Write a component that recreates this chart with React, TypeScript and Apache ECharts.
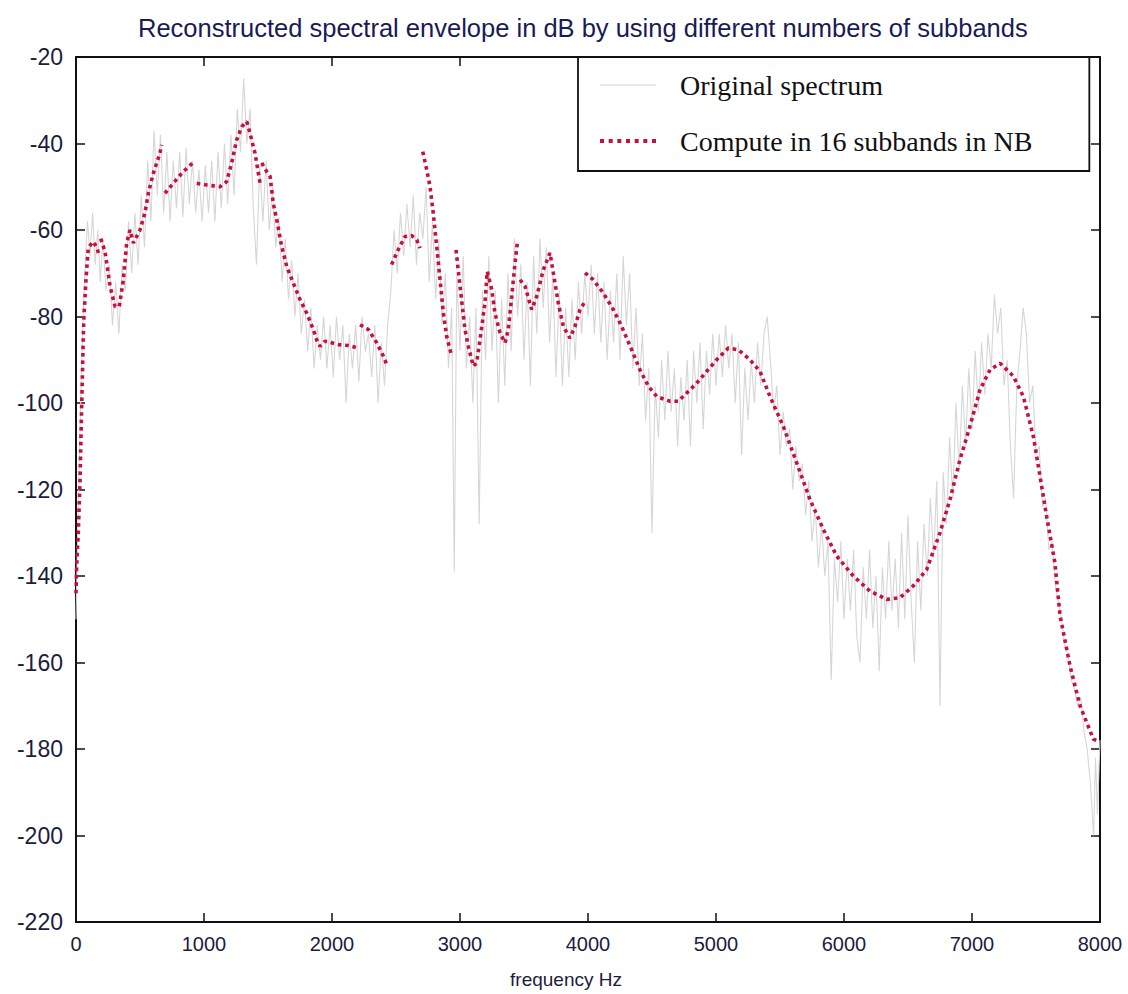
import React, { useEffect, useRef } from "react";
import * as echarts from "echarts";

const titleText = "Reconstructed spectral envelope in dB by using different numbers of subbands";
const xTicks = [0, 1000, 2000, 3000, 4000, 5000, 6000, 7000, 8000];
const yTicks = [-220, -200, -180, -160, -140, -120, -100, -80, -60, -40, -20];

// Original spectrum (Hz, dB)
const originalSpectrum: [number, number][] = [
  [0, -150], [15, -128], [30, -108], [45, -90], [60, -76], [75, -66], [90, -58], [110, -66], [130, -56], [150, -68],
  [170, -60], [190, -72], [210, -62], [235, -74], [260, -68], [285, -82], [310, -72], [335, -84], [360, -68], [385, -74],
  [410, -58], [435, -70], [460, -56], [485, -68], [510, -52], [535, -64], [560, -44], [585, -58], [610, -37], [635, -52],
  [660, -38], [685, -56], [710, -42], [735, -58], [760, -44], [785, -55], [810, -42], [835, -57], [860, -41], [885, -54],
  [910, -44], [935, -56], [960, -46], [985, -58], [1010, -45], [1035, -56], [1060, -44], [1085, -58], [1110, -42], [1135, -55],
  [1160, -40], [1185, -54], [1210, -38], [1235, -52], [1260, -32], [1285, -42], [1310, -25], [1335, -40], [1360, -32], [1385, -55],
  [1410, -68], [1435, -45], [1460, -58], [1485, -44], [1510, -60], [1535, -50], [1560, -64], [1585, -57], [1610, -72], [1635, -62],
  [1660, -76], [1685, -67], [1710, -80], [1735, -70], [1760, -84], [1785, -76], [1810, -88], [1835, -78], [1860, -92], [1885, -82],
  [1910, -90], [1935, -80], [1960, -92], [1985, -82], [2010, -94], [2035, -80], [2060, -90], [2085, -82], [2110, -100], [2135, -84],
  [2160, -92], [2185, -82], [2210, -95], [2235, -80], [2260, -88], [2285, -84], [2310, -94], [2335, -82], [2360, -100], [2385, -86],
  [2410, -96], [2435, -82], [2460, -74], [2485, -60], [2510, -70], [2535, -56], [2560, -66], [2585, -54], [2610, -64], [2635, -52],
  [2660, -68], [2685, -56], [2710, -62], [2735, -50], [2760, -72], [2785, -58], [2810, -76], [2835, -62], [2860, -82], [2885, -70],
  [2910, -92], [2935, -78], [2955, -139], [2975, -70], [3000, -88], [3025, -66], [3050, -92], [3075, -80], [3100, -100], [3125, -78],
  [3150, -128], [3175, -74], [3200, -90], [3225, -66], [3250, -88], [3275, -74], [3300, -100], [3325, -76], [3350, -96], [3375, -70],
  [3400, -88], [3425, -62], [3450, -80], [3475, -68], [3500, -90], [3525, -72], [3550, -96], [3575, -66], [3600, -84], [3625, -62],
  [3650, -78], [3675, -64], [3700, -86], [3725, -70], [3750, -94], [3775, -74], [3800, -96], [3825, -78], [3850, -94], [3875, -76],
  [3900, -90], [3925, -72], [3950, -84], [3975, -70], [4000, -80], [4025, -68], [4050, -84], [4075, -70], [4100, -86], [4125, -72],
  [4150, -90], [4175, -74], [4200, -86], [4225, -70], [4250, -90], [4275, -66], [4300, -82], [4325, -70], [4350, -92], [4375, -78],
  [4400, -96], [4425, -84], [4450, -104], [4475, -92], [4500, -130], [4525, -96], [4550, -108], [4575, -90], [4600, -104], [4625, -88],
  [4650, -102], [4675, -92], [4700, -110], [4725, -94], [4750, -104], [4775, -90], [4800, -110], [4825, -88], [4850, -100], [4875, -86],
  [4900, -106], [4925, -88], [4950, -98], [4975, -84], [5000, -96], [5025, -84], [5050, -94], [5075, -82], [5100, -92], [5125, -84],
  [5150, -100], [5175, -86], [5200, -112], [5225, -92], [5250, -104], [5275, -90], [5300, -100], [5325, -86], [5350, -96], [5375, -84],
  [5400, -80], [5425, -90], [5450, -102], [5475, -96], [5500, -112], [5525, -102], [5550, -110], [5575, -106], [5600, -120], [5625, -110],
  [5650, -118], [5675, -114], [5700, -126], [5725, -118], [5750, -132], [5775, -124], [5800, -138], [5825, -128], [5850, -140], [5875, -132],
  [5900, -164], [5925, -136], [5950, -146], [5975, -132], [6000, -150], [6025, -136], [6050, -148], [6075, -134], [6100, -154], [6125, -160],
  [6150, -138], [6175, -150], [6200, -134], [6225, -152], [6250, -140], [6275, -162], [6300, -138], [6325, -150], [6350, -132], [6375, -148],
  [6400, -136], [6425, -152], [6450, -130], [6475, -150], [6500, -126], [6525, -146], [6550, -160], [6575, -132], [6600, -148], [6625, -128],
  [6650, -140], [6675, -122], [6700, -136], [6725, -118], [6750, -170], [6775, -116], [6800, -128], [6825, -108], [6850, -122], [6875, -100],
  [6900, -116], [6925, -96], [6950, -110], [6975, -92], [7000, -106], [7025, -88], [7050, -102], [7075, -86], [7100, -98], [7125, -84],
  [7150, -92], [7175, -75], [7200, -84], [7225, -78], [7250, -96], [7275, -90], [7300, -110], [7325, -122], [7350, -96], [7375, -88],
  [7400, -78], [7425, -84], [7450, -100], [7475, -96], [7500, -112], [7525, -110], [7550, -124], [7575, -122], [7600, -134], [7625, -132],
  [7650, -142], [7675, -146], [7700, -150], [7725, -156], [7750, -158], [7775, -164], [7800, -166], [7825, -170], [7850, -168], [7875, -176],
  [7900, -180], [7925, -188], [7950, -200], [7965, -182], [7980, -195], [8000, -178],
];

// Reconstructed envelope (16 subbands in NB), one array per drawn piece
const envSeg1: [number, number][] = [
  [0, -144], [5, -137.7], [18, -130], [31, -118.4], [45, -100], [57, -84.6], [62, -80], [78, -71.5], [96, -64.1],
  [135, -62.7], [162, -64], [182, -66],
];
const envSeg2: [number, number][] = [
  [193, -62], [227, -65], [266, -73], [305, -77.7], [338, -77.7], [370, -71.5], [396, -63], [422, -60], [448, -63],
  [500, -60], [539, -56], [565, -51.5], [604, -46.9], [656, -42.2], [670, -40.3],
];
const envSeg3: [number, number][] = [[695, -51.5], [760, -49.2], [838, -46.5], [912, -44.5]];
const envSeg4: [number, number][] = [
  [943, -49.2], [1021, -49.6], [1125, -50], [1177, -48.8], [1216, -44.5], [1255, -39.2], [1295, -36.1], [1334, -34.9],
  [1359, -37.6], [1398, -42.2], [1438, -49.2],
];
const envSeg5: [number, number][] = [
  [1451, -44.5], [1490, -46.5], [1516, -47.6], [1541, -53.8], [1568, -57.6], [1607, -63.8], [1646, -68.4], [1698, -72.3],
  [1750, -76.1], [1802, -79.2], [1854, -83], [1880, -85.4], [1906, -86.9], [1945, -85.7], [2050, -86.5], [2130, -86.7], [2205, -87.3],
];
const envSeg6: [number, number][] = [[2219, -81.9], [2284, -83], [2350, -86.1], [2402, -89.2], [2427, -91.1]];
const envSeg7: [number, number][] = [[2466, -68], [2505, -65.3], [2570, -61.5], [2623, -61.3], [2662, -62.3], [2688, -64.2]];
const envSeg8: [number, number][] = [
  [2709, -41.9], [2740, -46.1], [2766, -50], [2791, -56.1], [2818, -63.8], [2844, -71.5], [2870, -79.2], [2896, -84.6], [2935, -89.2],
];
const envSeg9: [number, number][] = [
  [2969, -64.6], [3000, -73], [3039, -83], [3065, -86.9], [3104, -91.5], [3130, -90.7], [3156, -85.4], [3195, -76.9],
  [3213, -69.6], [3248, -73.8], [3273, -79.2], [3313, -83.8], [3352, -86.1], [3377, -83], [3404, -75.4], [3430, -67.6], [3448, -63],
];
const envSeg10: [number, number][] = [
  [3469, -71.5], [3508, -73], [3560, -78.4], [3599, -75.4], [3651, -69.2], [3703, -65.3], [3729, -69.9], [3768, -76.9],
  [3807, -82.3], [3859, -85], [3898, -82.3], [3938, -78.4], [3969, -76.9],
];
const envSeg11: [number, number][] = [
  [3977, -69.9], [4041, -71.5], [4120, -74.6], [4198, -78.4], [4263, -82.3], [4341, -87.7], [4406, -92.3], [4471, -96.1],
  [4537, -98.5], [4641, -99.6], [4705, -99.6], [4771, -97.7], [4849, -95.4], [4927, -92.7], [5005, -90], [5096, -87.3],
  [5174, -87.7], [5266, -90], [5344, -92.7], [5422, -98.5], [5526, -105.4], [5630, -113.8], [5734, -122.3], [5838, -129.2],
  [5943, -135.4], [6073, -140], [6203, -143.5], [6334, -145.4], [6438, -145], [6541, -142.3], [6646, -138.5], [6750, -130],
  [6828, -122.3], [6906, -113.1], [6984, -105.4], [7063, -96.9], [7141, -92.3], [7219, -90.8], [7323, -93.8], [7401, -98.5],
  [7479, -107.7], [7531, -116.9], [7583, -126.2], [7648, -137], [7688, -149.2], [7766, -160.8], [7844, -170], [7948, -177.7], [7977, -178.1],
];
const envelopeSegments = [envSeg1, envSeg2, envSeg3, envSeg4, envSeg5, envSeg6, envSeg7, envSeg8, envSeg9, envSeg10, envSeg11];

const seriesNames = ["Original spectrum", "Compute in 16 subbands in NB"];

const grayIcon = "path://M0,9.4L56,9.4L56,10.6L0,10.6Z";
const redIcon =
  "path://M0,0h4v4h-4z M8.67,0h4v4h-4z M17.33,0h4v4h-4z M26,0h4v4h-4z M34.67,0h4v4h-4z M43.33,0h4v4h-4z M52,0h4v4h-4z";

export default function App() {
  const ref = useRef<HTMLDivElement>(null);
  useEffect(() => {
    if (!ref.current) return;
    const chart = echarts.init(ref.current, undefined, { renderer: "svg" });
    const envData: any[] = [];
    envelopeSegments.forEach((seg, i) => {
      if (i > 0) envData.push([seg[0][0] - 1, "-"]);
      seg.forEach((p) => envData.push(p));
    });
    const labelColor = "#1c1c3c";
    const mkTick = () => ({ show: true, inside: true, length: 9, lineStyle: { color: "#111", width: 1.5 } });
    const mkLine = () => ({ show: true, onZero: false, lineStyle: { color: "#111", width: 2 } });
    chart.setOption({
      animation: false,
      backgroundColor: "#ffffff",
      title: {
        text: titleText,
        left: 133,
        top: 10,
        textStyle: { fontFamily: "Liberation Sans", fontWeight: "normal", fontSize: 25.5, color: "#1a1a55" },
      },
      legend: {
        data: [
          { name: seriesNames[0], icon: grayIcon },
          { name: seriesNames[1], icon: redIcon },
        ],
        orient: "vertical",
        left: 578,
        top: 57,
        padding: [14, 57, 16, 22],
        itemGap: 28,
        itemWidth: 56,
        itemHeight: 20,
        backgroundColor: "#ffffff",
        borderColor: "#111",
        borderWidth: 1.8,
        borderRadius: 0,
        textStyle: { fontFamily: "Liberation Serif", fontSize: 28, color: "#111", padding: [0, 0, 0, 19] },
        z: 10,
      },
      grid: { left: 76, right: 28, top: 57, bottom: 72 },
      xAxis: [
        {
          type: "value",
          position: "bottom",
          min: 0,
          max: 8000,
          interval: 1000,
          axisLine: mkLine(),
          axisTick: mkTick(),
          splitLine: { show: false },
          axisLabel: {
            fontFamily: "Liberation Sans",
            fontSize: 20,
            color: labelColor,
            margin: 12,
            formatter: (v: number) => String(v),
          },
          name: "frequency Hz",
          nameLocation: "middle",
          nameGap: 48,
          nameTextStyle: { fontFamily: "Liberation Sans", fontSize: 19, color: labelColor, padding: [0, 44, 0, 0] },
        },
        {
          type: "value",
          position: "top",
          min: 0,
          max: 8000,
          interval: 1000,
          axisLine: mkLine(),
          axisTick: mkTick(),
          splitLine: { show: false },
          axisLabel: { show: false },
        },
      ],
      yAxis: [
        {
          type: "value",
          position: "left",
          min: -220,
          max: -20,
          interval: 20,
          axisLine: mkLine(),
          axisTick: mkTick(),
          splitLine: { show: false },
          axisLabel: { fontFamily: "Liberation Sans", fontSize: 23, color: labelColor, margin: 13 },
        },
        {
          type: "value",
          position: "right",
          min: -220,
          max: -20,
          interval: 20,
          axisLine: mkLine(),
          axisTick: mkTick(),
          splitLine: { show: false },
          axisLabel: { show: false },
        },
      ],
      series: [
        {
          name: seriesNames[0],
          type: "line",
          data: originalSpectrum,
          symbol: "none",
          lineStyle: { color: "#d6d6d6", width: 1.1 },
          itemStyle: { color: "#d0d0d0" },
          z: 2,
        },
        {
          name: seriesNames[1],
          type: "line",
          data: envData,
          symbol: "none",
          connectNulls: false,
          lineStyle: { color: "#c8103c", width: 3.6, type: [3.6, 3.8] },
          itemStyle: { color: "#c8103c" },
          z: 3,
        },
      ],
    });
    return () => chart.dispose();
  }, []);
  return <div ref={ref} style={{ position: "absolute", left: 0, top: 0, width: 1128, height: 994 }} />;
}
